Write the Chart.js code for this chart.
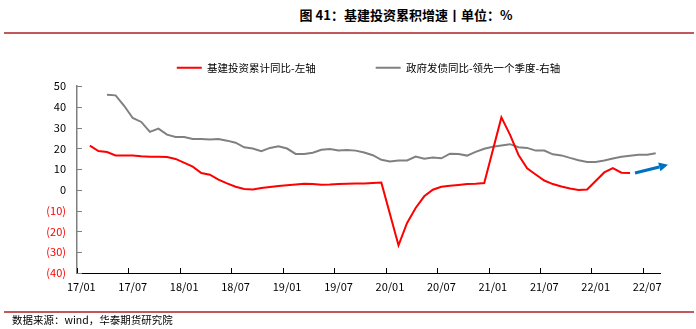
<!DOCTYPE html>
<html>
<head>
<meta charset="utf-8">
<script src="https://cdn.jsdelivr.net/npm/chart.js@4/dist/chart.umd.min.js"></script>
<style>
html,body{margin:0;padding:0;background:#fff;}
#wrap{position:relative;width:696px;height:329px;overflow:hidden;font-family:"Noto Sans CJK SC","Noto Sans",sans-serif;}
#title{position:absolute;left:406px;top:6px;transform:translateX(-50%);white-space:nowrap;font-size:13px;line-height:18px;font-weight:700;color:#000;}
.rule{position:absolute;left:4px;width:690px;height:2px;background:#c05a5a;}
#source{position:absolute;left:12px;top:313px;font-size:10.5px;line-height:14px;color:#000;white-space:nowrap;}
#c{position:absolute;left:0;top:0;}
</style>
</head>
<body>
<div id="wrap">
  <div id="title">图 41：基建投资累积增速丨单位：%</div>
  <div class="rule" style="top:32px"></div>
  <canvas id="c" width="696" height="329"></canvas>
  <div class="rule" style="top:311px"></div>
  <div id="source">数据来源：wind，华泰期货研究院</div>
</div>
<script>
const categories = [
  '17/01','17/02','17/03','17/04','17/05','17/06','17/07','17/08','17/09','17/10','17/11','17/12',
  '18/01','18/02','18/03','18/04','18/05','18/06','18/07','18/08','18/09','18/10','18/11','18/12',
  '19/01','19/02','19/03','19/04','19/05','19/06','19/07','19/08','19/09','19/10','19/11','19/12',
  '20/01','20/02','20/03','20/04','20/05','20/06','20/07','20/08','20/09','20/10','20/11','20/12',
  '21/01','21/02','21/03','21/04','21/05','21/06','21/07','21/08','21/09','21/10','21/11','21/12',
  '22/01','22/02','22/03','22/04','22/05','22/06','22/07','22/08'
];
const seriesNames = ['基建投资累计同比-左轴', '政府发债同比-领先一个季度-右轴'];
// 基建投资累计同比 (left axis, %)
const infraGrowth = [
  null,21.3,18.7,18.2,16.6,16.6,16.5,16.2,16.0,16.0,15.8,14.9,
  null,11.2,8.1,7.3,4.9,3.1,1.5,0.4,0.2,0.9,1.4,1.9,
  null,2.6,3.0,2.8,2.5,2.6,2.8,3.0,3.1,3.1,3.3,3.5,
  null,-26.7,-15.9,-8.7,-3.1,0.1,1.5,2.0,2.4,2.8,3.0,3.3,
  null,34.9,26.6,16.8,10.4,7.4,4.5,2.8,1.6,0.7,-0.1,0.2,
  null,8.4,10.5,8.3,8.1,null,null,null
];
// 政府发债同比 - 领先一个季度 (right axis)
const bondGrowth = [
  null,null,null,45.8,45.5,40.5,34.6,32.7,27.9,29.5,26.6,25.5,
  25.5,24.5,24.5,24.3,24.5,23.7,22.7,20.5,19.9,18.6,20.2,21.0,
  19.9,17.3,17.3,17.9,19.3,19.7,19.0,19.2,18.9,18.0,16.7,14.5,
  13.7,14.2,14.2,16.0,15.0,15.6,15.2,17.4,17.3,16.5,18.3,19.8,
  20.8,21.4,22.0,20.5,20.2,18.9,18.9,17.1,16.6,15.4,14.3,13.4,
  13.4,14.1,15.1,15.9,16.4,16.9,16.9,17.6
];
const yMin = -40, yMax = 50, yStep = 10;
const labelEvery = 6;

const FONT = '"Noto Sans CJK SC","Noto Sans",sans-serif';

const decor = {
  id: 'decor',
  beforeLayout(chart) {
    const lg = chart.legend;
    if (lg && !lg.__patched) {
      const f = lg.fit;
      lg.fit = function () { f.call(this); this.height += 3; };
      lg.__patched = true;
    }
  },
  afterDraw(chart) {
    const {ctx, chartArea: a, scales: {x, y}} = chart;
    ctx.save();
    ctx.lineWidth = 1;
    ctx.strokeStyle = '#808080';
    y.ticks.forEach(t => {
      const py = Math.round(y.getPixelForValue(t.value)) + 0.5;
      ctx.beginPath(); ctx.moveTo(a.left, py); ctx.lineTo(a.left + 5, py); ctx.stroke();
    });
    const half = (x.getPixelForValue(1) - x.getPixelForValue(0)) / 2;
    ctx.strokeStyle = '#000';
    for (let i = 0; i < categories.length; i += labelEvery) {
      const px = Math.round(x.getPixelForValue(i) - half) + 0.5;
      ctx.beginPath(); ctx.moveTo(px, a.bottom); ctx.lineTo(px, a.bottom - 5); ctx.stroke();
    }
    // trend arrow
    const sx = x.getPixelForValue(64) + 5, sy = y.getPixelForValue(8.1);
    const ex = a.right + 8, ey = y.getPixelForValue(12.1);
    const ang = Math.atan2(ey - sy, ex - sx);
    const hl = 9, hw = 4.5;
    const bx = ex - hl * Math.cos(ang), by = ey - hl * Math.sin(ang);
    ctx.strokeStyle = '#0070C0'; ctx.fillStyle = '#0070C0'; ctx.lineWidth = 3;
    ctx.beginPath(); ctx.moveTo(sx, sy); ctx.lineTo(bx, by); ctx.stroke();
    ctx.beginPath();
    ctx.moveTo(ex, ey);
    ctx.lineTo(bx + hw * Math.sin(ang), by - hw * Math.cos(ang));
    ctx.lineTo(bx - hw * Math.sin(ang), by + hw * Math.cos(ang));
    ctx.closePath(); ctx.fill();
    ctx.restore();
  }
};

new Chart(document.getElementById('c').getContext('2d'), {
  type: 'line',
  data: {
    labels: categories,
    datasets: [
      {label: seriesNames[0], data: infraGrowth, yAxisID: 'y', borderColor: '#ff0000', backgroundColor: '#ff0000',
       borderWidth: 2, pointRadius: 0, tension: 0, spanGaps: true},
      {label: seriesNames[1], data: bondGrowth, yAxisID: 'y1', borderColor: '#808080', backgroundColor: '#808080',
       borderWidth: 2, pointRadius: 0, tension: 0, spanGaps: true}
    ]
  },
  options: {
    responsive: false,
    animation: false,
    layout: {padding: {top: 44.5, right: 36, bottom: 34, left: 0}},
    plugins: {
      tooltip: {enabled: false},
      legend: {
        position: 'top',
        fullSize: false,
        labels: {
          boxWidth: 25, boxHeight: 2, padding: 18, color: '#000',
          font: {family: FONT, size: 10.5},
          generateLabels(chart) {
            return Chart.defaults.plugins.legend.labels.generateLabels(chart).map((l, i) => ({
              ...l, lineWidth: 0, fillStyle: l.strokeStyle,
              text: l.text + (i === 0 ? '\u3000\u3000\u3000\u3000' : '')
            }));
          }
        }
      }
    },
    scales: {
      x: {
        offset: true,
        grid: {display: false, drawTicks: false},
        border: {display: true, color: '#000', width: 1},
        ticks: {
          autoSkip: false, maxRotation: 0, minRotation: 0, padding: 7, color: '#000',
          font: {family: FONT, size: 11},
          callback: function (v, i) { return i % labelEvery === 0 ? this.getLabelForValue(v) : ''; }
        },
        afterFit(s) { s.height = 22; }
      },
      y: {
        position: 'left', min: yMin, max: yMax,
        grid: {display: false, drawTicks: false},
        border: {display: true, color: '#808080', width: 1.5},
        ticks: {
          stepSize: yStep, padding: 11,
          font: {family: FONT, size: 11},
          color: c => (c.tick && c.tick.value < 0) ? '#ff0000' : '#000',
          callback: v => v < 0 ? '(' + (-v) + ')' : String(v)
        },
        afterFit(s) { s.width = 77; }
      },
      y1: {position: 'right', display: false, min: yMin, max: yMax}
    }
  },
  plugins: [decor]
});
</script>
</body>
</html>
